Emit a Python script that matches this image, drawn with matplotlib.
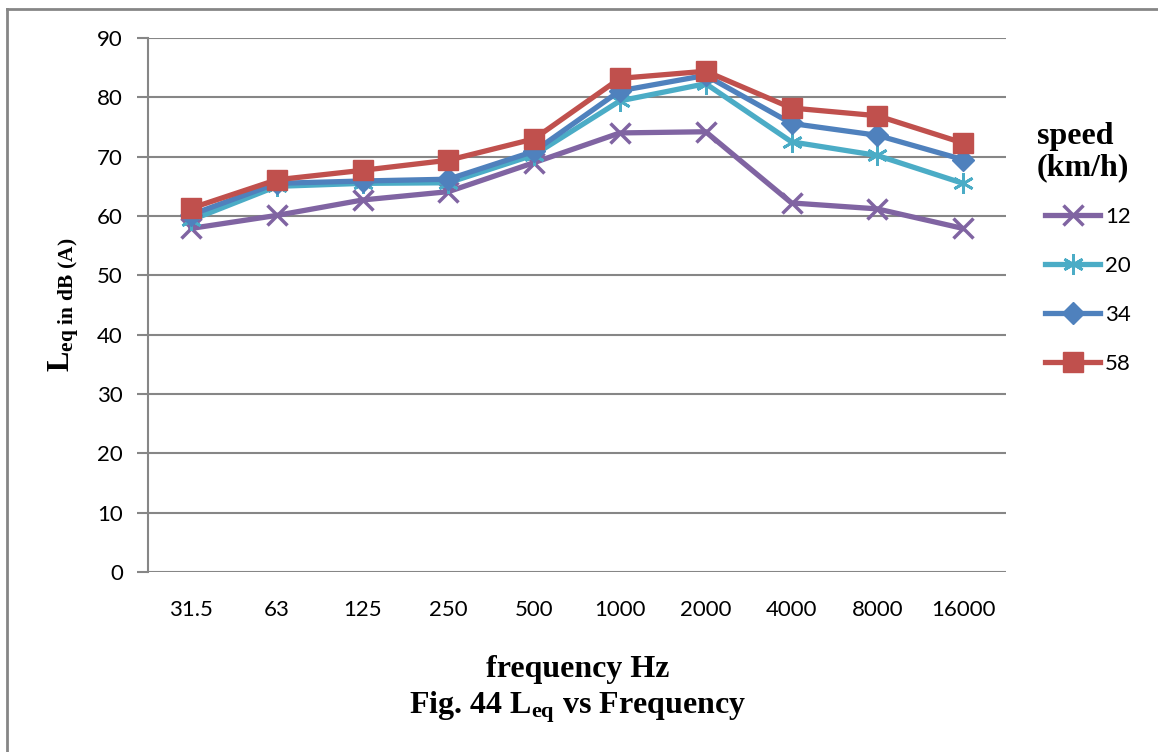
import matplotlib
matplotlib.use("Agg")
import matplotlib.pyplot as plt
from matplotlib.lines import Line2D

plt.rcParams['mathtext.fontset'] = 'custom'
plt.rcParams['mathtext.rm'] = 'Liberation Serif:bold'
plt.rcParams['mathtext.bf'] = 'Liberation Serif:bold'
plt.rcParams['mathtext.it'] = 'Liberation Serif:bold'

# Octave-band centre frequencies (Hz)
frequencies = ["31.5", "63", "125", "250", "500", "1000", "2000", "4000", "8000", "16000"]

# Equivalent sound level Leq in dB(A) per vehicle speed
leq_12 = [57.9, 60.1, 62.7, 64.1, 69.0, 74.0, 74.2, 62.2, 61.2, 57.9]
leq_20 = [59.3, 65.0, 65.5, 65.6, 70.3, 79.4, 82.3, 72.5, 70.2, 65.5]
leq_34 = [60.2, 65.5, 65.9, 66.2, 70.9, 81.1, 83.7, 75.6, 73.6, 69.5]
leq_58 = [61.3, 66.1, 67.7, 69.4, 73.0, 83.2, 84.4, 78.2, 76.9, 72.3]

speeds = ["12", "20", "34", "58"]

tick_font = "Lato"
serif = "Liberation Serif"
grid_col = "#868686"

fig = plt.figure(figsize=(11.58, 7.52), dpi=100)
ax = fig.add_axes([148 / 1158, 1 - 572 / 752, 858 / 1158, 534 / 752])

x = list(range(len(frequencies)))
series = [
    (leq_12, "#8064A2", "x", 15, 2.5),
    (leq_20, "#4BACC6", (6, 2, 0), 15, 2.0),
    (leq_34, "#4F81BD", "D", 11, 1.0),
    (leq_58, "#C0504D", "s", 14, 1.0),
]
for (vals, col, mk, ms, mew), lab in zip(series, speeds):
    ax.plot(x, vals, color=col, lw=3.8, marker=mk, markersize=ms,
            markeredgewidth=mew, markeredgecolor=col, markerfacecolor=col,
            label=lab, solid_joinstyle="round", zorder=3)

ax.set_xlim(-0.5, len(frequencies) - 0.5)
ax.set_ylim(0, 90)
ax.set_yticks(range(0, 91, 10))
ax.set_xticks(x)
ax.set_xticklabels(frequencies)
ax.yaxis.grid(True, color=grid_col, lw=1.5)
ax.set_axisbelow(True)
for s in ["top", "right", "bottom"]:
    ax.spines[s].set_visible(False)
ax.spines["left"].set_color(grid_col)
ax.spines["left"].set_linewidth(1.5)
ax.tick_params(axis="y", length=8, width=1.5, color=grid_col, pad=10,
               labelsize=16, labelcolor="black")
ax.tick_params(axis="x", length=0, pad=20, labelsize=16, labelcolor="black")
for t in ax.get_xticklabels() + ax.get_yticklabels():
    t.set_fontfamily(tick_font)

# Axis titles
fig.text(64 / 1158, 1 - 305 / 752, r"$\mathrm{L}_{\mathrm{eq\ in\ dB\ (A)}}$",
         rotation=90, fontsize=22, ha="center", va="center")
fig.text(578 / 1158, 1 - 670 / 752, "frequency Hz", family=serif,
         weight="bold", fontsize=23, ha="center", va="center")
fig.text(578 / 1158, 1 - 707 / 752, r"Fig. 44 L$_{\mathrm{eq}}$ vs Frequency",
         family=serif, weight="bold", fontsize=23, ha="center", va="center")

# Legend
fig.text(1037 / 1158, 1 - 152 / 752, "speed\n(km/h)", family=serif,
         weight="bold", fontsize=23, ha="left", va="center", linespacing=1.1)
leg = fig.legend(loc="upper left", bbox_to_anchor=(1045 / 1158, 1 - 207 / 752),
                 frameon=False, prop={"family": tick_font, "size": 16},
                 handlelength=2.48, handletextpad=0.22, labelspacing=1.3,
                 borderpad=0, borderaxespad=0)

# Page frame
fig.add_artist(Line2D([7 / 1158, 1.0], [1 - 9 / 752, 1 - 9 / 752],
                      transform=fig.transFigure, color=grid_col, lw=2))
fig.add_artist(Line2D([7 / 1158, 7 / 1158], [0, 1 - 9 / 752],
                      transform=fig.transFigure, color=grid_col, lw=2))

fig.savefig("out.png", dpi=100, facecolor="white")
